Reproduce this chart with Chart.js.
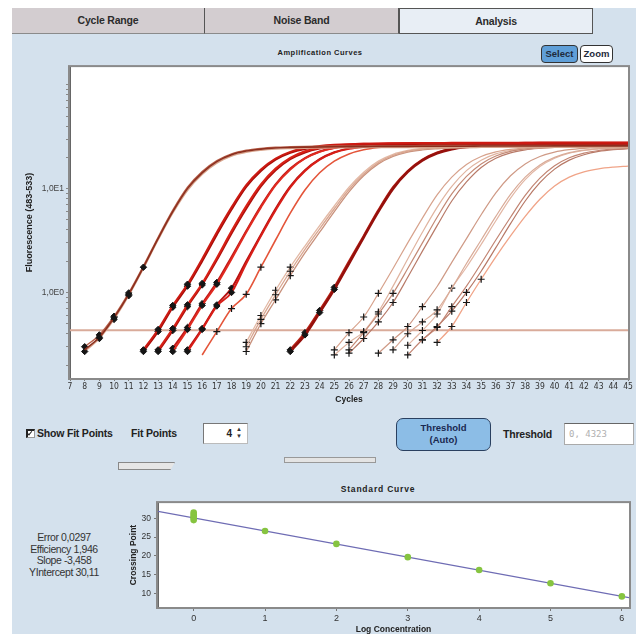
<!DOCTYPE html>
<html><head><meta charset="utf-8">
<script src="https://cdn.jsdelivr.net/npm/chart.js@4.4.1/dist/chart.umd.min.js"></script>
<style>
*{box-sizing:border-box}
html,body{margin:0;padding:0;width:636px;height:639px;overflow:hidden;background:#fff;font-family:'Liberation Sans',Arial,sans-serif}
.a{position:absolute}
#panel{left:12px;top:8px;width:624px;height:626px;background:#d4e1ed}
.tab{top:8px;height:26px;background:#d3cdd0;border-right:1px solid #555;border-bottom:1px solid #8a8a8a;font-weight:bold;font-size:10.5px;color:#2b2b2b;text-align:center;line-height:25px;letter-spacing:-0.2px}
#tab3{background:#e8eef5;border:1px solid #555}
.btn{font-weight:bold;font-size:9.5px;text-align:center;color:#1e2a3a;border:1px solid #333;border-radius:4px}
.lbl{font-weight:bold;font-size:10.5px;color:#222;letter-spacing:-0.2px}
</style></head><body>
<div id="panel" class="a"></div>
<div class="a tab" style="left:12px;width:193px">Cycle Range</div>
<div class="a tab" style="left:205px;width:194px">Noise Band</div>
<div class="a tab" id="tab3" style="left:399px;width:194px">Analysis</div>
<div class="a" style="left:200px;top:48px;width:240px;text-align:center;font-weight:bold;font-size:7.5px;letter-spacing:0.5px;color:#222">Amplification Curves</div>
<div class="a btn" style="left:541px;top:45px;width:37px;height:18px;line-height:16px;background:#5f9fd8">Select</div>
<div class="a btn" style="left:580px;top:45px;width:33px;height:18px;line-height:16px;background:#fff">Zoom</div>
<canvas id="amp" class="a" width="621" height="350" style="left:15px;top:60px"></canvas>

<div class="a" style="left:26px;top:429px;width:9px;height:9px;border:2px solid #222;border-right:1px solid #999;border-bottom:1px solid #999;background:#fff"></div>
<div class="a" style="left:28px;top:430px;width:3px;height:5px;border-right:1.5px solid #222;border-bottom:1.5px solid #222;transform:rotate(40deg)"></div>
<div class="a lbl" style="left:37px;top:427px">Show Fit Points</div>
<div class="a lbl" style="left:131px;top:427px">Fit Points</div>
<div class="a" style="left:203px;top:423px;width:45px;height:21px;background:#fff;border:1px solid #777;border-right-color:#bbb;border-bottom-color:#bbb;font-size:10px;font-weight:bold;color:#222;text-align:right;padding-right:15px;line-height:19px">4</div>
<div class="a" style="left:236px;top:426px;font-size:6px;line-height:7px;color:#333">&#9650;<br>&#9660;</div>
<div class="a" style="left:118px;top:462px;width:57px;height:8px;background:#e6e6e6;border:1px solid #888;clip-path:polygon(0 0,100% 0,92% 100%,0 100%)"></div>
<div class="a" style="left:284px;top:457px;width:92px;height:6px;background:#e4e4e4;border:1px solid #999"></div>
<div class="a" style="left:396px;top:418px;width:95px;height:33px;background:#8cbde6;border:1.5px solid #2a4060;border-radius:7px;font-weight:bold;font-size:9.5px;color:#1a2850;text-align:center;line-height:12px;padding-top:3px">Threshold<br>(Auto)</div>
<div class="a lbl" style="left:503px;top:428px">Threshold</div>
<div class="a" style="left:564px;top:423px;width:70px;height:22px;background:#fff;border:1px solid #aaa;border-top-color:#666;color:#b0b0b0;font-family:'DejaVu Sans Mono',monospace;font-size:9px;line-height:20px;padding-left:4px" id="thrBox"></div>

<div class="a" style="left:318px;top:484px;width:120px;text-align:center;font-weight:bold;font-size:8.5px;letter-spacing:0.8px;color:#222">Standard Curve</div>
<div class="a" id="stats" style="left:14px;top:532px;width:100px;text-align:center;font-size:10.5px;line-height:11.5px;color:#333;letter-spacing:-0.4px"></div>
<canvas id="std" class="a" width="516" height="144" style="left:120px;top:495px"></canvas>

<script>
// ---------- DATA ----------
const cycleTicks = [7,8,9,10,11,12,13,14,15,16,17,18,19,20,21,22,23,24,25,26,27,28,29,30,31,32,33,34,35,36,37,38,39,40,41,42,43,44,45];
const fluorTicks = [0.2,0.3,0.4,0.5,0.6,0.7,0.8,0.9,1,2,3,4,5,6,7,8,9,10,20,30,40,50,60,70,80,90,100];
const fluorTickLabels = {1:'1,0E0', 10:'1,0E1'};
const threshold = 0.4323;

// fluorescence per cycle, starting at the given start cycle
const g1a = [0.28,0.37,0.57,0.96,1.75,3.3,6.0,10.0,14.2,18.2,21.2,23.0,24.0,24.6,24.9,25.1,25.2,25.3,25.4,25.4,25.5,25.5,25.5,25.6,25.6,25.6,25.6,25.7,25.7,25.7,25.7,25.7,25.8,25.8,25.8,25.8,25.8,25.8];
const g1b = [0.27,0.36,0.55,0.93,1.70,3.2,5.8,9.6,13.7,17.6,20.6,22.4,23.4,24.0,24.3,24.5,24.6,24.7,24.7,24.8,24.8,24.8,24.9,24.9,24.9,24.9,24.9,25.0,25.0,25.0,25.0,25.0,25.0,25.0,25.0,25.0,25.0,25.0];
const g1c = [0.30,0.39,0.59,0.99,1.80,3.4,6.2,10.3,14.6,18.6,21.6,23.4,24.4,25.0,25.3,25.5,25.6,25.7,25.8,25.8,25.9,25.9,25.9,26.0,26.0,26.0,26.0,26.0,26.1,26.1,26.1,26.1,26.1,26.1,26.1,26.1,26.1,26.1];
const g2a = [0.28,0.44,0.75,1.2,2.1,3.8,6.6,10.8,15.3,19.5,22.6,24.6,25.7,26.4,26.8,27.0,27.1,27.2,27.3,27.3,27.4,27.4,27.4,27.5,27.5,27.5,27.5,27.6,27.6,27.6,27.6,27.6,27.6,27.6];
const g2b = [0.27,0.42,0.72,1.15,2.0,3.6,6.3,10.4,14.8,19.0,22.1,24.1,25.2,25.9,26.3,26.5,26.6,26.7,26.8,26.8,26.9,26.9,26.9,27.0,27.0,27.0,27.0,27.0,27.0,27.0,27.0,27.0,27.0,27.0];
const g3a = [0.28,0.45,0.76,1.22,2.15,3.9,6.8,11.0,15.6,19.8,22.9,24.8,25.9,26.6,27.0,27.2,27.3,27.4,27.5,27.5,27.6,27.6,27.6,27.7,27.7,27.7,27.7,27.7,27.7,27.7,27.7,27.7,27.7];
const g3b = [0.27,0.43,0.73,1.18,2.05,3.7,6.4,10.5,15.0,19.2,22.3,24.3,25.4,26.0,26.4,26.6,26.7,26.8,26.9,26.9,27.0,27.0,27.0,27.0,27.1,27.1,27.1,27.1,27.1,27.1,27.1,27.1,27.1];
const g4a = [0.27,0.44,0.75,1.2,2.1,3.8,6.6,10.8,15.3,19.5,22.6,24.6,25.7,26.3,26.7,26.9,27.0,27.1,27.2,27.2,27.3,27.3,27.3,27.3,27.4,27.4,27.4,27.4,27.4,27.4,27.4,27.4];
const g4b = [0.29,0.46,0.78,1.25,2.2,3.9,6.8,11.0,15.6,19.7,22.8,24.8,25.9,26.5,26.9,27.1,27.2,27.3,27.4,27.4,27.5,27.5,27.5,27.5,27.6,27.6,27.6,27.6,27.6,27.6,27.6,27.6];
const g5a = [0.27,0.44,0.74,1.0,1.9,3.5,6.2,10.3,14.8,19.0,22.2,24.2,25.3,26.0,26.4,26.6,26.7,26.8,26.9,26.9,27.0,27.0,27.0,27.0,27.1,27.1,27.1,27.1,27.1,27.1,27.1];
const g5b = [0.28,0.45,0.76,1.1,2.0,3.6,6.4,10.5,15.0,19.2,22.4,24.4,25.5,26.2,26.6,26.8,26.9,27.0,27.1,27.1,27.2,27.2,27.2,27.2,27.3,27.3,27.3,27.3,27.3,27.3,27.3];
const g6a = [0.25,0.42,0.70,0.96,1.75,3.2,5.8,9.7,14.2,18.4,21.6,23.7,24.9,25.6,26.0,26.2,26.3,26.4,26.5,26.5,26.6,26.6,26.6,26.6,26.7,26.7,26.7,26.7,26.7,26.7];
const g7a = [0.30,0.55,0.95,1.6,2.6,4.1,6.4,9.8,13.8,17.8,20.9,22.9,24.0,24.6,25.0,25.2,25.3,25.4,25.5,25.5,25.5,25.6,25.6,25.6,25.6,25.6,25.6];
const g7b = [0.27,0.50,0.85,1.45,2.4,3.8,6.0,9.3,13.3,17.3,20.4,22.5,23.6,24.2,24.6,24.8,24.9,25.0,25.0,25.1,25.1,25.1,25.1,25.2,25.2,25.2,25.2];
const g7c = [0.33,0.60,1.05,1.75,2.8,4.4,6.8,10.3,14.4,18.4,21.4,23.3,24.4,25.0,25.4,25.6,25.7,25.8,25.8,25.9,25.9,25.9,25.9,26.0,26.0,26.0,26.0];
const g8a = [0.27,0.39,0.64,1.07,1.9,3.4,6.0,10.0,14.5,18.7,21.9,24.0,25.2,25.9,26.3,26.5,26.6,26.7,26.8,26.8,26.9,26.9,26.9,26.9];
const g8b = [0.28,0.41,0.67,1.12,2.0,3.5,6.2,10.3,14.8,19.0,22.2,24.3,25.5,26.2,26.6,26.8,26.9,27.0,27.1,27.1,27.2,27.2,27.2,27.2];
const g9a = [0.28,0.41,0.58,0.98,1.7,3.0,5.2,8.7,12.9,17.1,20.4,22.6,23.9,24.6,25.0,25.2,25.3,25.4,25.4,25.5,25.5];
const g9b = [0.28,0.41,0.62,0.98,1.7,3.0,5.3,8.9,13.1,17.3,20.6,22.8,24.1,24.8,25.2,25.4,25.5,25.6,25.6,25.6];
const g9c = [0.25,0.33,0.42,0.65,1.15,2.1,3.8,6.6,10.5,14.9,18.8,21.6,23.3,24.2,24.7,25.0,25.1,25.2,25.2,25.3,25.3];
const g9d = [0.26,0.36,0.52,0.80,1.4,2.5,4.4,7.6,11.6,16.0,19.6,22.1,23.6,24.4,24.9,25.1,25.2,25.3,25.3,25.3];
const g10a = [0.26,0.35,0.47,0.73,1.14,1.95,3.3,5.6,9.1,13.3,17.3,20.4,22.5,23.7,24.4,24.8,25.0,25.1];
const g10b = [0.28,0.40,0.52,0.68,1.10,1.90,3.2,5.4,8.8,12.9,16.9,20.0,22.2,23.5,24.2,24.6,24.8];
const g10c = [0.25,0.35,0.46,0.73,1.15,1.90,3.2,5.3,8.6,12.6,16.6,19.8,22.0,23.3,24.0,24.4];
const g10d = [0.31,0.43,0.62,1.10,1.75,2.90,4.9,8.1,12.2,16.3,19.6,21.9,23.3,24.1,24.5,24.7];
const g10e = [0.35,0.47,0.66,1.00,1.60,2.70,4.6,7.6,11.4,15.4,18.8,21.2,22.8,23.7,24.2];
const g10f = [0.33,0.47,0.80,1.34,2.2,3.5,5.4,7.9,10.6,12.9,14.5,15.5,16.1,16.5];

const curveValues = [g1a,g1b,g1c,g2a,g2b,g3a,g3b,g4a,g4b,g5a,g5b,g6a,g7a,g7b,g7c,g8a,g8b,g9a,g9b,g9c,g9d,g10a,g10b,g10c,g10d,g10e,g10f];
const curveStarts = [8,8,8,12,12,13,13,14,14,15,15,16,19,19,19,22,22,25,26,25,26,28,29,30,30,31,32];
const curveFitFirst = [1,0,0,0,0,0,0,0,0,0,0,1,0,0,0,0,0,0,0,0,0,0,0,0,0,0,0];

// standard curve
const stdLogConc = [0,0,0,0,0,1,2,3,4,5,6];
const stdCrossing = [29.5,30.0,30.5,31.0,31.5,26.6,23.2,19.7,16.3,12.8,9.3];
const fitLineX = [-0.5,6.1];
const fitLineY = [31.8,9.0];
const stdXTicks = [0,1,2,3,4,5,6];
const stdYTicks = [10,15,20,25,30];
const statLabels = ['Error','Efficiency','Slope','YIntercept'];
const statValues = ['0,0297','1,946','-3,458','30,11'];
const thresholdText = '0, 4323';

// ---------- STYLES ----------
const curveColors = ['#8c2f1e','#d8a48c','#b8604a','#cc1a12','#a80c08','#d82016','#b0100c','#e02a20','#c01818','#d81e18','#b81010','#e4553a',
  '#d9a690','#c8917c','#e3b9a5','#96100c','#b82418','#d7a28c','#c48a76','#e0b4a0','#b87a68','#cf9a86','#d9ab98','#c28472','#e2b6a4','#b77866','#f0a488'];
const curveWidths = [1.6,1.4,1.4,2,2,2,2,2,2,2,2,1.6,1.3,1.3,1.3,2.6,2.2,1.2,1.2,1.2,1.2,1.2,1.2,1.2,1.2,1.2,1.3];
const solidMarker = [true,true,true,true,true,true,true,true,true,true,true,false,false,false,false,true,true,false,false,false,false,false,false,false,false,false,false];

document.getElementById('thrBox').textContent = thresholdText;
document.getElementById('stats').innerHTML = statLabels.map((l,i)=>l+' '+statValues[i]).join('<br>');

const areaPlugin = {
  id:'area',
  beforeDraw(c){const {ctx,chartArea:a}=c;ctx.save();ctx.fillStyle='#fff';ctx.fillRect(a.left,a.top,a.width,a.height);ctx.restore();},
  afterDraw(c){const {ctx,chartArea:a}=c;ctx.save();ctx.strokeStyle='#8a8a8a';ctx.lineWidth=2;ctx.strokeRect(a.left-1,a.top-1,a.width+2,a.height+2);ctx.restore();}
};

const datasets = [];
curveValues.forEach((vals,ci)=>{
  const start = curveStarts[ci];
  const pts = vals.map((v,i)=>({x:start+i,y:v})).filter(p=>p.x<=45);
  const f0 = curveFitFirst[ci];
  const solid = solidMarker[ci];
  datasets.push({
    data:pts, borderColor:curveColors[ci], borderWidth:curveWidths[ci],
    cubicInterpolationMode:'monotone',
    pointStyle: solid ? 'rectRot' : 'cross',
    pointRadius: ctx => (ctx.dataIndex>=f0 && ctx.dataIndex<f0+4) ? (solid?3.2:3.5) : 0,
    pointBackgroundColor:'#151515', pointBorderColor:'#151515',
    pointBorderWidth: solid?1:1.2
  });
});
datasets.push({data:[{x:7,y:threshold},{x:45,y:threshold}], borderColor:'#d9ab9a', borderWidth:2, pointRadius:0, order:100});

const tickFont = {family:"'Liberation Sans Narrow','DejaVu Sans Condensed',sans-serif", size:8.5};

new Chart(document.getElementById('amp'), {
  type:'line',
  data:{datasets},
  plugins:[areaPlugin],
  options:{
    responsive:false, animation:false, events:[],
    layout:{padding:{top:6,right:8,left:0,bottom:0}},
    plugins:{legend:{display:false},tooltip:{enabled:false}},
    scales:{
      x:{type:'linear',min:7,max:45,
        afterFit:s=>{s.height=32;},
        afterBuildTicks:s=>{s.ticks=cycleTicks.map(v=>({value:v}));},
        ticks:{autoSkip:false,maxRotation:0,font:tickFont,color:'#333',padding:1},
        grid:{drawOnChartArea:false,tickLength:3,color:'#777'},
        border:{color:'#666',width:1},
        title:{display:true,text:'Cycles',font:{size:8.5,weight:'bold',family:'Liberation Sans'},color:'#222',padding:{top:0,bottom:5}}
      },
      y:{type:'logarithmic',min:0.15,max:148,
        afterFit:s=>{s.width=55;},
        afterBuildTicks:s=>{s.ticks=fluorTicks.map(v=>({value:v}));},
        ticks:{autoSkip:false,font:{family:'Liberation Sans',size:8.5},color:'#444',padding:2,
          callback:v=>fluorTickLabels[v]||''},
        grid:{drawOnChartArea:false,tickLength:4,color:'#888'},
        border:{color:'#666',width:1},
        title:{display:true,text:'Fluorescence (483-533)',font:{size:9,weight:'bold',family:'Liberation Sans'},color:'#222',padding:{top:9,bottom:0}}
      }
    }
  }
});

new Chart(document.getElementById('std'), {
  type:'scatter',
  data:{datasets:[
    {data:stdLogConc.map((x,i)=>({x,y:stdCrossing[i]})), backgroundColor:'#86c440', borderColor:'#86c440', pointRadius:3.3, pointBorderWidth:0},
    {type:'line', data:fitLineX.map((x,i)=>({x,y:fitLineY[i]})), borderColor:'#6e6cb4', borderWidth:1.3, pointRadius:0, order:10}
  ]},
  plugins:[areaPlugin],
  options:{
    responsive:false, animation:false, events:[],
    layout:{padding:{top:7,right:7,left:0,bottom:0}},
    plugins:{legend:{display:false},tooltip:{enabled:false}},
    scales:{
      x:{type:'linear',min:-0.5,max:6.1,
        afterFit:s=>{s.height=32;},
        afterBuildTicks:s=>{s.ticks=stdXTicks.map(v=>({value:v}));},
        ticks:{font:{family:'Liberation Sans',size:9},color:'#333',padding:2},
        grid:{drawOnChartArea:false,tickLength:4,color:'#777'},
        border:{color:'#666'},
        title:{display:true,text:'Log Concentration',font:{size:8.5,weight:'bold',family:'Liberation Sans'},color:'#222',padding:{top:0,bottom:4}}
      },
      y:{min:6.5,max:34,
        afterFit:s=>{s.width=38;},
        afterBuildTicks:s=>{s.ticks=stdYTicks.map(v=>({value:v}));},
        ticks:{font:{family:'Liberation Sans',size:8.5},color:'#333',padding:3},
        grid:{drawOnChartArea:false,tickLength:4,color:'#777'},
        border:{color:'#666'},
        title:{display:true,text:'Crossing Point',font:{size:8.5,weight:'bold',family:'Liberation Sans'},color:'#222',padding:{top:9,bottom:0}}
      }
    }
  }
});
</script>
</body></html>
